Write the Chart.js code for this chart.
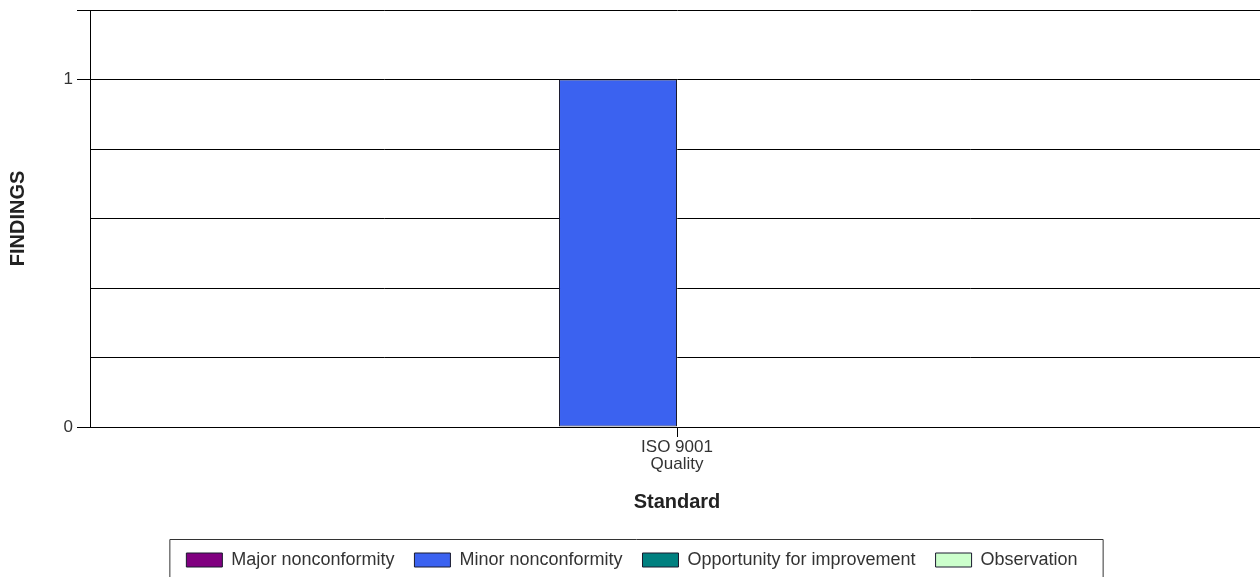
<!DOCTYPE html>
<html>
<head>
<meta charset="utf-8">
<script src="https://cdn.jsdelivr.net/npm/chart.js@4"></script>
<style>
    html, body { margin: 0; padding: 0; background: #fff; overflow: hidden; }
    #wrap { width: 1264px; height: 579px; position: relative; }
</style>
</head>
<body>
<div id="wrap"><canvas id="findings-chart"></canvas></div>
<script>
const categories = [['ISO 9001', 'Quality']];
const seriesNames = ['Major nonconformity', 'Minor nonconformity', 'Opportunity for improvement', 'Observation'];
const seriesColors = ['#800080', '#3B62F0', '#008080', '#CCFFCC'];
const majorValues = [0];
const minorValues = [1];
const opportunityValues = [0];
const observationValues = [0];
const labelledTicks = [0, 1];

const seriesValues = [majorValues, minorValues, opportunityValues, observationValues];

const textFont = 'Arial, "Liberation Sans", sans-serif';

const isLabelled = (v) => labelledTicks.some((t) => Math.abs(t - v) < 1e-6);

// frame round the legend, open at the bottom like the original
const legendFrame = {
    id: 'legendFrame',
    afterDraw(chart) {
        const legend = chart.legend;
        const boxes = legend.legendHitBoxes;

        if (! boxes || ! boxes.length) {
            return;
        }

        const left = Math.min(...boxes.map((b) => b.left)) - 16.5;
        const right = Math.max(...boxes.map((b) => b.left + b.width)) + 25.5;
        const top = legend.top + 8.5;
        const ctx = chart.ctx;

        ctx.save();
        ctx.strokeStyle = '#333';
        ctx.lineWidth = 1;
        ctx.beginPath();
        ctx.moveTo(left, chart.height + 5);
        ctx.lineTo(left, top);
        ctx.lineTo(right, top);
        ctx.lineTo(right, chart.height + 5);
        ctx.stroke();
        ctx.restore();
    },
};

new Chart(document.getElementById('findings-chart'), {
    type: 'bar',
    data: {
        labels: categories,
        datasets: seriesNames.map((name, i) => ({
            label: name,
            data: seriesValues[i],
            backgroundColor: seriesColors[i],
            borderColor: '#1a1a2e',
            borderWidth: 1,
            borderSkipped: false,
            categoryPercentage: 0.402,
            barPercentage: 1,
        })),
    },
    options: {
        responsive: true,
        maintainAspectRatio: false,
        animation: false,
        layout: { padding: { top: 10, left: 0, right: 0, bottom: 0 } },
        plugins: {
            legend: {
                position: 'bottom',
                labels: {
                    boxWidth: 36,
                    boxHeight: 14,
                    padding: 20,
                    color: '#333',
                    font: { family: textFont, size: 18 },
                },
            },
            tooltip: { enabled: false },
        },
        scales: {
            x: {
                grid: {
                    offset: false,
                    drawOnChartArea: false,
                    drawTicks: true,
                    tickLength: 10,
                    tickColor: '#000',
                },
                border: { color: '#000', width: 1 },
                ticks: {
                    maxRotation: 0,
                    padding: 2,
                    color: '#333',
                    font: { family: textFont, size: 17, lineHeight: 1.0 },
                },
                title: {
                    display: true,
                    text: 'Standard',
                    color: '#222',
                    font: { family: textFont, size: 20, weight: 'bold' },
                    padding: { top: 0, bottom: 17 },
                },
                afterFit(scale) {
                    scale.height = 104;
                },
            },
            y: {
                min: 0,
                max: 1.2,
                ticks: {
                    stepSize: 0.2,
                    padding: 4,
                    color: '#333',
                    font: { family: textFont, size: 17 },
                    callback: (v) => (isLabelled(v) ? Math.round(v) : ''),
                },
                grid: {
                    color: '#000',
                    lineWidth: 1,
                    tickLength: 13,
                    tickColor: (ctx) => (ctx.tick && (isLabelled(ctx.tick.value) || ctx.tick.value > 1.19) ? '#000' : 'rgba(0,0,0,0)'),
                },
                border: { color: '#000', width: 1 },
                title: {
                    display: true,
                    text: 'FINDINGS',
                    color: '#222',
                    font: { family: textFont, size: 20, weight: 'bold' },
                    padding: { top: 6, bottom: 0 },
                },
                afterFit(scale) {
                    scale.width = 90;
                    scale.paddingTop = 0;
                    scale.paddingBottom = 0;
                },
            },
        },
    },
    plugins: [legendFrame],
});
</script>
</body>
</html>
